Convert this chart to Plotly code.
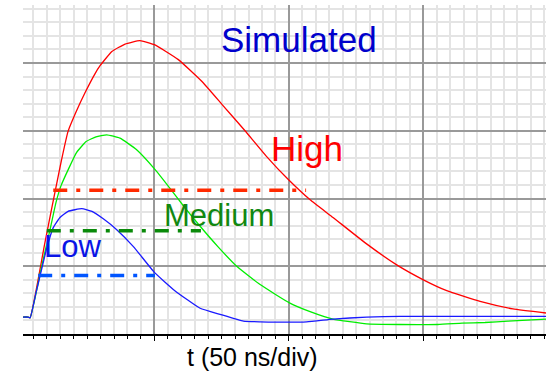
import plotly.graph_objects as go

# time axis in ns (50 ns/div), amplitude in divisions
t_high = [1.0, 3.0, 3.8, 9.3, 14.9, 17.9, 20.9, 24.2, 27.9, 29.8, 34.2, 39.1, 44.6, 50.0,
          58.9, 67.6, 75.1, 83.7, 91.5, 99.8, 107.9, 116.4, 128.9, 140.1, 150.0, 158.7, 171.1, 183.3, 195.6]
v_high = [0.25, 0.25, 0.24, 1.35, 2.46, 2.99, 3.28, 3.56, 3.84, 3.96, 4.17, 4.28, 4.33, 4.27,
          4.05, 3.73, 3.39, 3.00, 2.63, 2.28, 1.98, 1.72, 1.33, 1.02, 0.80, 0.64, 0.48, 0.37, 0.31]

t_med = [1.0, 3.0, 3.8, 8.1, 11.2, 13.4, 15.3, 18.0, 21.1, 24.6, 28.3, 32.3, 37.2, 43.4, 50.2, 55.8,
         61.4, 67.0, 73.6, 80.6, 89.3, 100.2, 107.9, 116.4, 128.9, 141.4, 155.4, 164.4, 172.9, 181.5, 195.6]
v_med = [0.25, 0.25, 0.24, 1.00, 1.54, 1.94, 2.19, 2.43, 2.68, 2.84, 2.91, 2.94, 2.89, 2.72, 2.43, 2.15,
         1.86, 1.59, 1.29, 1.00, 0.73, 0.46, 0.33, 0.22, 0.15, 0.14, 0.14, 0.16, 0.17, 0.19, 0.22]

t_low = [1.0, 3.0, 3.8, 6.0, 7.8, 10.0, 12.4, 14.9, 17.9, 23.0, 26.8, 31.0, 36.0, 42.2, 50.0, 57.6,
         67.0, 74.4, 83.1, 89.3, 106.6, 116.4, 128.9, 141.4, 195.6]
v_low = [0.25, 0.25, 0.24, 0.61, 0.91, 1.27, 1.57, 1.72, 1.81, 1.85, 1.81, 1.70, 1.54, 1.29, 0.91, 0.64,
         0.38, 0.29, 0.19, 0.18, 0.18, 0.22, 0.25, 0.26, 0.26]

# dash-dot threshold levels: (start ns, end ns, level)
lvl_high = [12.4, 106.4, 2.12]
lvl_med = [10.0, 67.3, 1.525]
lvl_low = [6.8, 50.2, 0.865]

labels = ["Simulated", "High", "Medium", "Low"]
axis_label = "t (50 ns/div)"

fig = go.Figure()
curve_w = 1.3
for tx, vy, col in [(t_high, v_high, "#ff0000"), (t_med, v_med, "#00ee00"), (t_low, v_low, "#1a1aff")]:
    fig.add_trace(go.Scatter(x=tx, y=vy, mode="lines",
                             line=dict(color=col, width=curve_w, shape="spline", smoothing=0.4)))

dd = "14px,9px,4px,9px"
for lv, col in [(lvl_high, "#ff2a00"), (lvl_med, "#0a8a0a"), (lvl_low, "#0055ff")]:
    fig.add_trace(go.Scatter(x=[lv[0], lv[1]], y=[lv[2], lv[2]], mode="lines",
                             line=dict(color=col, width=3.5, dash=dd)))

font_fam = "Arial, Liberation Sans, sans-serif"
fig.add_annotation(x=103.7, y=4.344, text=labels[0], showarrow=False, xanchor="center", yanchor="middle",
                   font=dict(family=font_fam, size=35, color="#0000cc"))
fig.add_annotation(x=106.6, y=2.732, text=labels[1], showarrow=False, xanchor="center", yanchor="middle",
                   font=dict(family=font_fam, size=35, color="#ff0000"))
fig.add_annotation(x=74.0, y=1.756, text=labels[2], showarrow=False, xanchor="center", yanchor="middle",
                   font=dict(family=font_fam, size=31, color="#118811"))
fig.add_annotation(x=19.4, y=1.289, text=labels[3], showarrow=False, xanchor="center", yanchor="middle",
                   font=dict(family=font_fam, size=31, color="#0a14e6"))
fig.add_annotation(x=86.5, y=-0.069, xref="x", yref="paper", text=axis_label, showarrow=False,
                   xanchor="center", yanchor="middle",
                   font=dict(family=font_fam, size=25, color="#000000"))

fig.update_layout(
    width=546, height=374,
    margin=dict(l=23, r=0, t=5, b=40),
    plot_bgcolor="white", paper_bgcolor="white",
    showlegend=False,
    xaxis=dict(range=[1.15, 195.6], tick0=0, dtick=50, showgrid=True, gridcolor="#999999", gridwidth=1.5,
               showticklabels=False, ticks="outside", ticklen=5, tickcolor="black", tickwidth=1,
               showline=True, linecolor="black", linewidth=1.5, zeroline=False,
               minor=dict(dtick=5, tick0=0, showgrid=True, gridcolor="#e4e4e4", gridwidth=1.5,
                          ticks="outside", ticklen=3, tickcolor="black", tickwidth=1)),
    yaxis=dict(range=[0, 4.856], tick0=0, dtick=1, showgrid=True, gridcolor="#999999", gridwidth=1.5,
               showticklabels=False, ticks="", showline=False, zeroline=False,
               minor=dict(dtick=0.2, tick0=0, showgrid=True, gridcolor="#e4e4e4", gridwidth=1.5)),
)

fig.write_html("out.html")
